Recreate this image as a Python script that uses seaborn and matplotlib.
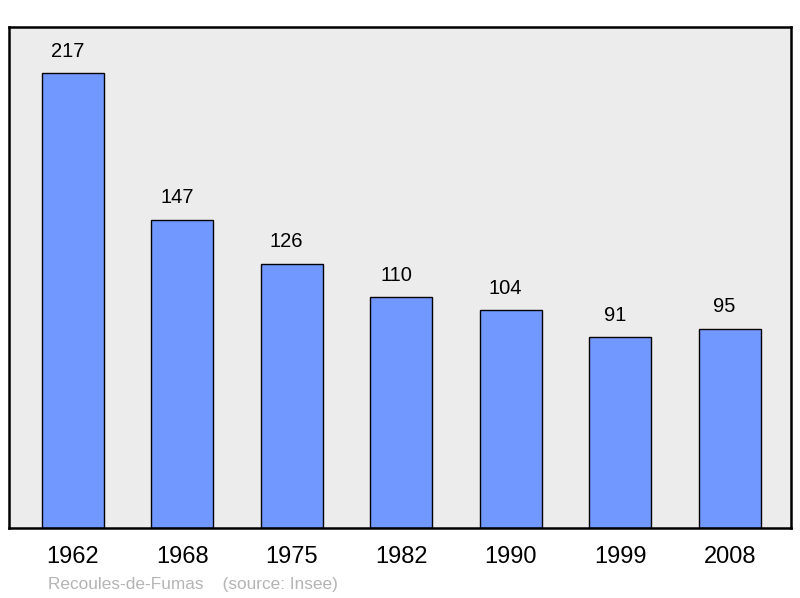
import matplotlib
matplotlib.use("Agg")
import pandas as pd
import seaborn as sns
import matplotlib.pyplot as plt

years = ["1962", "1968", "1975", "1982", "1990", "1999", "2008"]
population = [217, 147, 126, 110, 104, 91, 95]

df = pd.DataFrame({"year": years, "pop": population})

sns.set_style("white")
plt.rcParams["font.family"] = ["Liberation Sans", "DejaVu Sans"]

fig = plt.figure(figsize=(8, 5.98), dpi=100)
ax = fig.add_axes([9 / 800, 70 / 598, 782 / 800, 501 / 598])
ax.set_facecolor("#ececec")

sns.barplot(data=df, x="year", y="pop", color="#7098ff", saturation=1,
            width=0.566, edgecolor="black", linewidth=1, ax=ax)

for i, v in enumerate(population):
    ax.annotate(str(v), (i, v), xytext=(-3.8, 15.8), textcoords="offset points",
                ha="center", va="center", fontsize=14.5, color="black")

ax.set_xlim(-0.584, 6.558)
ax.set_ylim(0, 239)
ax.set_yticks([])
ax.set_xlabel("")
ax.set_ylabel("")
ax.tick_params(axis="x", length=0, pad=13, labelsize=17, labelcolor="black")
for s in ax.spines.values():
    s.set_color("black")
    s.set_linewidth(1.8)

fig.text(48 / 800, 1 - 584 / 598, "Recoules-de-Fumas    (source: Insee)",
         fontsize=12.4, color="#b4b4b4", va="center", ha="left")

fig.savefig("out.png", dpi=100)
